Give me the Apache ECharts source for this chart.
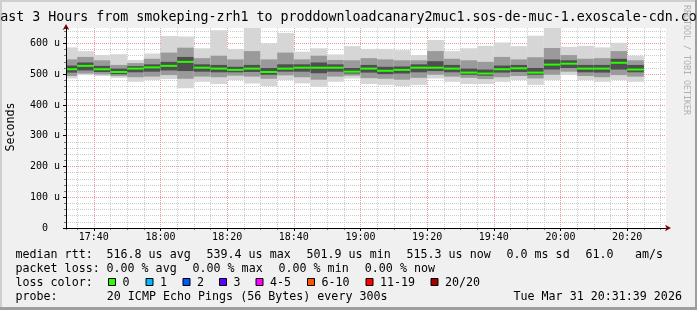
<!DOCTYPE html>
<html><head><meta charset="utf-8">
<script src="https://cdn.jsdelivr.net/npm/echarts@6/dist/echarts.min.js"></script>
<style>html,body{margin:0;padding:0;background:#f0f0f0}#c{width:697px;height:310px}</style>
</head><body><div id="c"></div>
<script>
// ---- data ----
const titleText = 'Last 3 Hours from smokeping-zrh1 to proddownloadcanary2muc1.sos-de-muc-1.exoscale-cdn.com';
const axisStart = '17:31:39';
const axisEnd = '20:31:39';
const stepMinutes = 5;
const barStart = ['17:30','17:35','17:40','17:45','17:50','17:55','18:00','18:05','18:10','18:15',
  '18:20','18:25','18:30','18:35','18:40','18:45','18:50','18:55','19:00','19:05',
  '19:10','19:15','19:20','19:25','19:30','19:35','19:40','19:45','19:50','19:55',
  '20:00','20:05','20:10','20:15','20:20'];
// round-trip times in microseconds (smoke quantile bands + median)
const pingMin = [486,497,494,488,475,481,484,454,475,468,481,470,461,481,470,459,475,486,468,465,461,465,486,475,468,468,475,481,465,481,497,481,475,481,475];
const pingLo2 = [494,502,499,494,490,492,497,485,492,490,495,492,485,496,490,482,492,495,487,485,482,488,498,492,488,484,490,494,486,498,508,494,490,497,492];
const pingLo3 = [505,512,507,500,506,508,512,510,508,506,506,507,498,508,508,503,508,502,505,500,502,506,510,506,498,495,505,507,498,515,520,506,505,515,506];
const median  = [516,527,516,507,518,522,527,540,521,518,514,518,507,518,521,521,521,508,518,511,514,521,521,518,505,502,516,519,505,531,534,518,518,537,515];
const pingHi3 = [528,538,527,518,526,532,540,556,532,530,524,530,520,532,532,538,532,520,530,524,525,532,542,530,518,515,528,530,520,548,545,530,530,550,530];
const pingHi2 = [548,556,545,530,536,550,570,586,552,560,548,575,548,570,548,560,546,545,552,548,545,545,575,550,545,540,556,548,555,585,562,550,552,575,545];
const pingMax = [587,575,562,565,546,567,624,622,584,643,582,665,600,634,573,584,564,591,582,582,578,562,611,575,584,592,603,591,625,665,589,592,587,602,560];
const yMax = 650;
const yTickLabelsUnit = ' u';
const legendRow1 = [['median rtt:',16],['516.8 us avg',107],['539.4 us max',207],['501.9 us min',307],['515.3 us now',407],['0.0 ms sd',507],['61.0',586],['am/s',635.5]];
const legendRow2 = [['packet loss:',16],['0.00 % avg',107],['0.00 % max',193],['0.00 % min',279],['0.00 % now',365.3]];
const lossColors = [['0','#26ff00'],['1','#00b8ff'],['2','#0059ff'],['3','#5e00ff'],['4-5','#ff00ff'],['6-10','#ff5500'],['11-19','#ff0000'],['20/20','#a00000']];
const lossBoxX = [108,145.5,182.5,219,255.5,307,365.5,430.5];
const probeText = '20 ICMP Echo Pings (56 Bytes) every 300s';
const dateText = 'Tue Mar 31 20:31:39 2026';

// ---- helpers ----
function toMin(t){const p=t.split(':').map(Number);return p[0]*60+p[1]+(p[2]||0)/60;}
function hhmm(v){const h=Math.floor(v/60), m=Math.round(v-h*60);return String(h).padStart(2,'0')+':'+String(m).padStart(2,'0');}
const xMin = toMin(axisStart), xMax = toMin(axisEnd);
const MONO = '"DejaVu Sans Mono", monospace';

const data = barStart.map((t,i)=>[toMin(t),pingMin[i],pingLo2[i],pingLo3[i],median[i],pingHi3[i],pingHi2[i],pingMax[i]]);

function renderItem(params, api){
  const cs = params.coordSys;
  const x0 = api.value(0), x1 = x0 + stepMinutes;
  const left = Math.max(api.coord([x0,0])[0], cs.x + 1);
  const right = Math.min(api.coord([x1,0])[0], cs.x + cs.width);
  const w = right - left;
  if (w <= 0) return;
  function band(lo, hi, color){
    const yTop = Math.max(api.coord([x0, hi])[1], cs.y);
    const yBot = api.coord([x0, lo])[1];
    return {type:'rect', shape:{x:left, y:yTop, width:w, height:yBot-yTop}, style:{fill:color}};
  }
  const ym = api.coord([x0, api.value(4)])[1];
  return {type:'group', children:[
    band(api.value(1), api.value(7), '#d6d6d6'),
    band(api.value(2), api.value(6), '#9a9a9a'),
    band(api.value(3), api.value(5), '#4f4f4f'),
    {type:'rect', shape:{x:left, y:ym-1, width:w, height:2}, style:{fill:lossColors[0][1]}}
  ]};
}

function txt(text, x, y, size, extra){
  return Object.assign({type:'text', x:x, y:y, silent:true,
    style:{text:text, font: size+'px '+MONO, fill:'#000', textAlign:'left', textVerticalAlign:'middle', align:'left', verticalAlign:'middle'}}, extra||{});
}
const graphics = [
  {type:'rect', shape:{x:0,y:0,width:697,height:2}, style:{fill:'#cfcfcf'}, silent:true},
  {type:'rect', shape:{x:0,y:0,width:2,height:310}, style:{fill:'#cfcfcf'}, silent:true},
  {type:'rect', shape:{x:0,y:307,width:697,height:3}, style:{fill:'#9e9e9e'}, silent:true},
  {type:'rect', shape:{x:695,y:0,width:2,height:310}, style:{fill:'#9e9e9e'}, silent:true},
];
graphics.push({type:'text', x:348.5, y:18, silent:true, style:{text:titleText, font:'13.3px '+MONO, fill:'#000', textAlign:'center', align:'center', textVerticalAlign:'middle', verticalAlign:'middle'}});
graphics.push({type:'text', x:11, y:127, rotation:Math.PI/2, silent:true, style:{text:'Seconds', font:'11.67px '+MONO, fill:'#000', textAlign:'center', align:'center', textVerticalAlign:'middle', verticalAlign:'middle'}});
graphics.push({type:'text', x:686.5, y:60, rotation:-Math.PI/2, silent:true, style:{text:'RRDTOOL / TOBI OETIKER', font:'8.3px '+MONO, fill:'#b0b0b0', textAlign:'center', align:'center', textVerticalAlign:'middle', verticalAlign:'middle'}});
legendRow1.forEach(([t,x])=>graphics.push(txt(t,x-0.5,254.5,11.67)));
legendRow2.forEach(([t,x])=>graphics.push(txt(t,x-0.5,268.5,11.67)));
graphics.push(txt('loss color:',15.5,282.5,11.67));
lossColors.forEach(([lab,col],i)=>{
  const bx = lossBoxX[i];
  graphics.push({type:'rect', silent:true, shape:{x:bx+0.5,y:278.5,width:7,height:7}, style:{fill:col, stroke:'#000', lineWidth:1}});
  graphics.push(txt(lab, bx+14.5, 282.5, 11.67));
});
graphics.push(txt('probe:',15.5,296.5,11.67));
graphics.push(txt(probeText,106.8,296.5,11.67));
graphics.push(txt(dateText,513.5,296.5,11.67));

const chart = echarts.init(document.getElementById('c'), null, {renderer:'canvas'});
chart.setOption({
  animation:false,
  backgroundColor:'#f0f0f0',
  grid:{left:66, top:28, width:600, height:200, show:true, backgroundColor:'#ffffff', borderWidth:0, containLabel:false},
  xAxis:[
    {type:'value', position:'bottom', min:xMin, max:xMax, splitNumber:36, z:0,
     axisLine:{show:true, onZero:false, lineStyle:{color:'#7f0000', width:1}, symbol:['none','arrow'], symbolSize:[5,6], symbolOffset:[0,5]},
     axisTick:{show:true, length:2, lineStyle:{color:'#777'}}, axisLabel:{show:false},
     splitLine:{show:true, showMinLine:false, showMaxLine:false, lineStyle:{color:'#cdcdcd', type:[1,1], width:1}}},
    {type:'value', position:'bottom', min:xMin, max:xMax, splitNumber:9, z:1,
     axisLine:{show:true, onZero:false, lineStyle:{color:'#000', width:1}},
     axisTick:{show:true, length:3, lineStyle:{color:'#000'}},
     axisLabel:{show:true, margin:4, showMinLabel:false, showMaxLabel:false, formatter:(v)=>hhmm(v), fontFamily:MONO, fontSize:10, color:'#000'},
     splitLine:{show:true, showMinLine:false, showMaxLine:false, lineStyle:{color:'#eb9a9a', type:[1,1], width:1}}}
  ],
  yAxis:[
    {type:'value', position:'left', min:0, max:yMax, interval:20, z:0,
     axisLine:{show:true, onZero:false, lineStyle:{color:'#7f0000', width:1}, symbol:['none','arrow'], symbolSize:[5,6], symbolOffset:[0,4]},
     axisTick:{show:true, length:2, lineStyle:{color:'#777'}}, axisLabel:{show:false},
     splitLine:{show:true, showMinLine:false, showMaxLine:false, lineStyle:{color:'#cdcdcd', type:[1,1], width:1}}},
    {type:'value', position:'left', min:0, max:yMax, interval:100, z:1,
     axisLine:{show:true, onZero:false, lineStyle:{color:'#000', width:1}},
     axisTick:{show:true, length:3, lineStyle:{color:'#000'}},
     axisLabel:{show:true, margin:6, showMaxLabel:false, formatter:(v)=> v===0 ? '0  ' : (v + yTickLabelsUnit), fontFamily:MONO, fontSize:10, color:'#000'},
     splitLine:{show:true, showMinLine:false, showMaxLine:false, lineStyle:{color:'#eb9a9a', type:[1,1], width:1}}}
  ],
  series:[{
    type:'custom', xAxisIndex:1, yAxisIndex:1, renderItem:renderItem, data:data,
    encode:{x:0, y:4}, z:2, silent:true
  }],
  graphic:{elements:graphics}
});
</script></body></html>
